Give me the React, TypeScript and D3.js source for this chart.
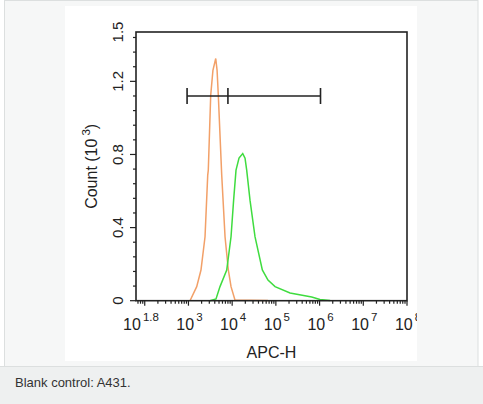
import * as d3 from "d3";
import React from "react";

// APC-H values (linear units) and counts (x10^3)
const controlApc = [1085, 1545, 1935, 2395, 2760, 2845, 3230, 3630, 4210, 4520, 4820, 5770, 6870, 8170, 9420, 11600, 25600, 66000];
const controlCount = [0, 0.077, 0.168, 0.35, 0.687, 0.714, 1.124, 1.26, 1.325, 1.26, 1.124, 0.687, 0.35, 0.168, 0.077, 0.004, 0.003, 0.001];

const sampleApc = [3110, 4270, 5270, 7510, 9420, 10800, 12250, 14350, 17460, 19700, 21500, 25600, 33300, 49000, 66000, 95700, 211000, 661000, 1020000, 1740000];
const sampleCount = [0, 0.01, 0.077, 0.168, 0.35, 0.55, 0.714, 0.78, 0.805, 0.78, 0.714, 0.55, 0.35, 0.168, 0.113, 0.077, 0.042, 0.02, 0.007, 0.001];

// gate marker: left end, middle tick, right end, and its height
const gateApc = [930, 8000, 1050000];
const gateCount = 1.12;

const xTickExponents = ["1.8", "3", "4", "5", "6", "7", "8"];
const yTickValues = [0, 0.4, 0.8, 1.2, 1.5];
const yTickLabels = ["0", "0.4", "0.8", "1.2", "1.5"];

const caption = "Blank control: A431.";

const W = 483;
const H = 404;
const font = "'Liberation Sans', Arial, Helvetica, sans-serif";

export default function App() {
  const x = d3.scaleLog().domain([10 ** 1.8, 1e8]).range([136, 407]);
  const y = d3.scaleLinear().domain([0, 1.47]).range([300.7, 32]).clamp(true);

  const line = d3
    .line<[number, number]>()
    .x((d) => x(d[0]))
    .y((d) => y(d[1]));

  const controlPts = controlApc.map((v, i) => [v, controlCount[i]] as [number, number]);
  const samplePts = sampleApc.map((v, i) => [v, sampleCount[i]] as [number, number]);

  // log ticks: majors at each decade, minors 2..9
  const majors: number[] = [];
  const minors: number[] = [];
  for (let e = 1; e < 8; e++) {
    for (let m = 1; m < 10; m++) {
      const v = m * 10 ** e;
      if (v < x.domain()[0] || v > x.domain()[1]) continue;
      if (m === 1) majors.push(v);
      else minors.push(v);
    }
  }
  majors.push(1e8);

  const yMinor: number[] = [];
  for (let i = 1; i <= 18; i++) {
    if (i % 5 !== 0) yMinor.push(i * 0.08);
  }

  const [x0, x1] = x.range();
  const [yb, yt] = y.range();

  return (
    <div style={{ position: "absolute", left: 0, top: 0 }}>
      <svg width={W} height={H} style={{ display: "block" }}>
        <defs>
          <clipPath id="img">
            <rect x={65} y={6} width={352} height={355} />
          </clipPath>
        </defs>
        {/* page frame */}
        <rect x={0} y={0} width={W} height={H} fill="#ffffff" />
        <rect x={4.5} y={0.5} width={473.5} height={366} fill="#f6f7f7" stroke="#dcdfdf" />
        <rect x={0} y={366.5} width={W} height={H - 366} fill="#eef0f0" />
        <line x1={0} x2={W} y1={366.5} y2={366.5} stroke="#dcdfdf" />
        <text x={15} y={387} fontFamily={font} fontSize={13} fill="#333">
          {caption}
        </text>

        <g clipPath="url(#img)">
          <rect x={65} y={6} width={352} height={355} fill="#ffffff" />

          {/* histograms */}
          <path d={line(controlPts) ?? ""} fill="none" stroke="#f2a068" strokeWidth={1.5} />
          <path d={line(samplePts) ?? ""} fill="none" stroke="#3fdc3f" strokeWidth={1.5} />

          {/* gate */}
          <g stroke="#222" strokeWidth={1.6}>
            <line x1={x(gateApc[0])} x2={x(gateApc[2])} y1={y(gateCount)} y2={y(gateCount)} />
            {gateApc.map((v, i) => (
              <line key={i} x1={x(v)} x2={x(v)} y1={y(gateCount) - 8} y2={y(gateCount) + 8} />
            ))}
          </g>

          {/* frame */}
          <rect x={x0} y={yt} width={x1 - x0} height={yb - yt} fill="none" stroke="#222" strokeWidth={1.6} />

          {/* x ticks */}
          <g stroke="#222" strokeWidth={1.2}>
            {majors.map((v) => (
              <line key={"M" + v} x1={x(v)} x2={x(v)} y1={yb} y2={yb + 5} />
            ))}
            {minors.map((v) => (
              <line key={"m" + v} x1={x(v)} x2={x(v)} y1={yb} y2={yb + 3} />
            ))}
          </g>
          {xTickExponents.map((e, i) => (
            <text
              key={e}
              x={x(10 ** +e) + (i === 0 ? 5 : 1)}
              y={330}
              textAnchor="middle"
              fontFamily={font}
              fontSize={16}
              fill="#222"
            >
              10
              <tspan dx={2} dy={-9} fontSize={11.5}>
                {e}
              </tspan>
            </text>
          ))}

          {/* y ticks */}
          <g stroke="#222" strokeWidth={1.2}>
            {yTickValues.slice(0, 4).map((v) => (
              <line key={"M" + v} x1={x0 - 6} x2={x0} y1={y(v)} y2={y(v)} />
            ))}
            {yMinor.map((v) => (
              <line key={"m" + v} x1={x0 - 3} x2={x0} y1={y(v)} y2={y(v)} />
            ))}
          </g>
          {yTickValues.map((v, i) => (
            <text
              key={v}
              transform={`translate(123,${y(v)}) rotate(-90)`}
              textAnchor="middle"
              fontFamily={font}
              fontSize={15}
              fill="#222"
            >
              {yTickLabels[i]}
            </text>
          ))}

          {/* axis titles */}
          <text
            transform={`translate(97,${(yb + yt) / 2}) rotate(-90)`}
            textAnchor="middle"
            fontFamily={font}
            fontSize={16}
            fill="#222"
          >
            Count (10
            <tspan fontSize={11.5} dx={3} dy={-7}>
              3
            </tspan>
            <tspan dy={7}>)</tspan>
          </text>
          <text x={(x0 + x1) / 2} y={358} textAnchor="middle" fontFamily={font} fontSize={16} fill="#222">
            APC-H
          </text>
        </g>
      </svg>
    </div>
  );
}
